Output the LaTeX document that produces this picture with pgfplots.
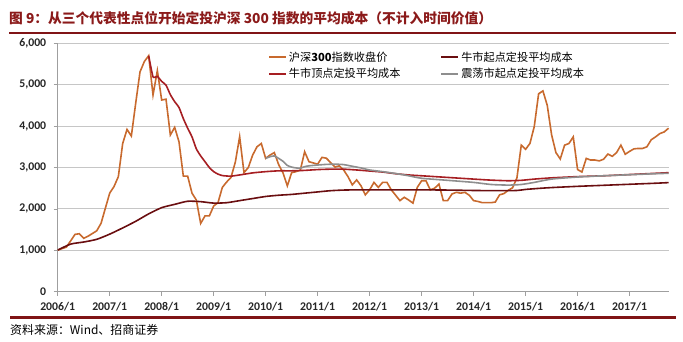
\documentclass[border=0pt]{standalone}
\usepackage{fontspec}
\setmainfont{Carlito}
\newfontfamily\cjk{Noto Sans CJK SC}
\usepackage{pgfplots}
\pgfplotsset{compat=1.18}
\definecolor{cOrange}{RGB}{200,106,46}
\definecolor{cDark}{RGB}{106,14,16}
\definecolor{cRed}{RGB}{166,30,34}
\definecolor{cGray}{RGB}{142,142,142}
\definecolor{cTitle}{RGB}{139,26,26}
\definecolor{cRule}{RGB}{128,20,22}
\pgfplotsset{
  mylegend/.style={legend image code/.code={\draw[##1, line width=1.8bp] (0bp,0bp) -- (17bp,0bp);}},
}
\begin{document}
\begin{tikzpicture}
\path[use as bounding box] (0,0) rectangle (683bp,342bp);
\node[anchor=west, inner sep=0pt, text=cTitle] at (9bp,323.5bp) {\cjk\bfseries\fontsize{13.8}{15}\selectfont 图 9：从三个代表性点位开始定投沪深 300 指数的平均成本（不计入时间价值）};
\draw[cRule, line width=2.2bp] (9bp,309bp) -- (676bp,309bp);
\draw[cRule, line width=2.2bp] (10bp,24.5bp) -- (676bp,24.5bp);
\node[anchor=west, inner sep=0pt] at (10bp,12bp) {\cjk\fontsize{12}{13}\selectfont 资料来源：Wind、招商证券};
\begin{axis}[
  at={(57.7bp,50.3bp)}, anchor=south west,
  width=611.3bp, height=248.4bp, scale only axis,
  xmin=0, xmax=141.1, ymin=0, ymax=6000,
  axis x line*=bottom, axis y line*=left,
  axis line style={color=gray!75, line width=0.8bp},
  ytick={0,1000,...,6000},
  ymajorgrids, grid style={color=gray!45, line width=0.9bp},
  xtick={0,12,...,132},
  xticklabels={2006/1,2007/1,2008/1,2009/1,2010/1,2011/1,2012/1,2013/1,2014/1,2015/1,2016/1,2017/1},
  tick align=outside, major tick length=4bp,
  tick style={color=gray!75, line width=0.8bp},
  ticklabel style={font=\bfseries\fontsize{11.8}{13}\selectfont, color=black!85},
  yticklabel style={xshift=-4bp},
  xticklabel style={yshift=-3bp},
  /pgf/number format/1000 sep={,},
  /pgf/number format/assume math mode=true,
  legend columns=2,
  legend cell align=left,
  mylegend,
  legend style={at={(axis cs:48.3,5870)}, anchor=north west, draw=none, fill=white,
    font=\cjk\fontsize{11.2}{13}\selectfont, inner sep=1bp, row sep=1.5bp,
    /tikz/every even column/.append style={column sep=38bp}},
]
\addplot[cOrange, line width=1.6bp] table {
0 1005
1 1040
2 1075
3 1230
4 1385
5 1400
6 1290
7 1340
8 1405
9 1470
10 1650
11 2015
12 2380
13 2540
14 2780
15 3580
16 3920
17 3760
18 4550
19 5310
20 5560
21 5700
22 4750
23 5340
24 4630
25 4650
26 3785
27 3970
28 3620
29 2790
30 2790
31 2380
32 2215
33 1650
34 1830
35 1830
36 2070
37 2150
38 2520
39 2650
40 2760
41 3130
42 3745
43 2875
44 3000
45 3300
46 3500
47 3580
48 3220
49 3300
50 3360
51 3070
52 2870
53 2555
54 2875
55 2900
56 2935
57 3380
58 3140
59 3110
60 3080
61 3245
62 3225
63 3120
64 3010
65 3040
66 2940
67 2780
68 2580
69 2700
70 2560
71 2340
72 2460
73 2640
74 2520
75 2640
76 2640
77 2460
78 2330
79 2200
80 2280
81 2215
82 2140
83 2520
84 2680
85 2680
86 2460
87 2500
88 2600
89 2200
90 2200
91 2360
92 2400
93 2380
94 2400
95 2330
96 2200
97 2180
98 2150
99 2150
100 2150
101 2165
102 2340
103 2370
104 2450
105 2510
106 2750
107 3540
108 3440
109 3580
110 3990
111 4780
112 4850
113 4500
114 3790
115 3360
116 3205
117 3540
118 3580
119 3740
120 2950
121 2890
122 3220
123 3180
124 3180
125 3160
126 3200
127 3325
128 3270
129 3360
130 3540
131 3320
132 3390
133 3450
134 3460
135 3460
136 3500
137 3670
138 3740
139 3820
140 3860
141 3950
};
\addlegendentry{沪深\textbf{300}指数收盘价}
\addplot[cDark, line width=1.6bp, smooth, tension=0.4] table {
0 1005
3 1150
6 1200
9 1265
12 1390
15 1540
18 1700
21 1880
24 2030
27 2110
30 2185
33 2175
36 2140
39 2150
42 2200
45 2250
48 2300
51 2330
54 2350
57 2380
60 2410
63 2440
66 2455
69 2460
72 2460
78 2460
84 2460
90 2455
96 2445
102 2440
106 2445
108 2470
111 2495
114 2515
120 2545
126 2570
132 2595
138 2620
141 2635
};
\addlegendentry{牛市起点定投平均成本}
\addplot[cRed, line width=1.6bp, smooth, tension=0.3] table {
21 5700
22 5190
23 5200
24 5080
25 4990
26 4760
27 4590
28 4450
29 4180
30 3950
31 3740
32 3450
33 3280
34 3140
35 3000
36 2900
37 2840
38 2805
39 2795
40 2790
42 2820
45 2870
48 2900
51 2920
54 2920
57 2930
60 2950
63 2960
66 2960
69 2940
72 2915
75 2890
78 2850
81 2820
84 2800
90 2760
96 2720
100 2695
104 2680
107 2690
110 2720
114 2750
120 2780
126 2800
132 2830
138 2860
141 2875
};
\addlegendentry{牛市顶点定投平均成本}
\addplot[cGray, line width=1.6bp, smooth, tension=0.4] table {
48 3220
49 3260
50 3280
51 3220
52 3150
53 3050
54 3010
55 2990
56 2985
57 3020
58 3040
60 3060
62 3075
64 3080
66 3070
68 3030
70 2990
72 2940
75 2900
78 2855
81 2800
84 2740
90 2690
96 2640
100 2590
104 2575
107 2590
110 2640
114 2720
120 2770
126 2800
132 2825
138 2850
141 2860
};
\addlegendentry{震荡市起点定投平均成本}
\end{axis}
\end{tikzpicture}
\end{document}
